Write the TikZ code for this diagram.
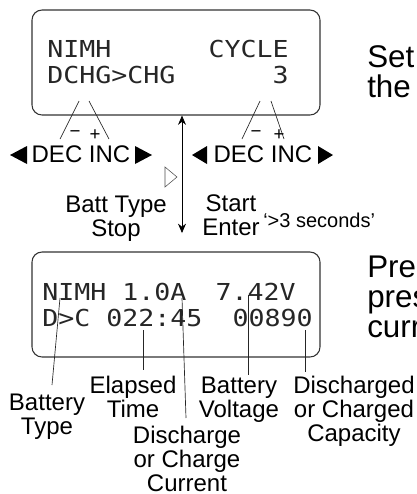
\documentclass[tikz,border=0pt]{standalone}
\usepackage{fontspec}
\setmainfont{Liberation Sans}
\newfontfamily\lcdfont[FakeStretch=1.14]{DejaVu Sans Mono}
\usetikzlibrary{arrows.meta}
\tikzset{
  lcd/.style={draw=black!80, line width=0.8pt, rounded corners=7.5pt,
    minimum width=216pt, minimum height=78.75pt},
  lcdtxt/.style={font=\lcdfont\fontsize{17.5}{17.5}\selectfont, text=black!85, inner sep=0pt},
  lbl/.style={font=\fontsize{18}{18}\selectfont, align=center, inner sep=0pt, anchor=base},
  sgn/.style={font=\fontsize{14}{14}\selectfont, inner sep=0pt},
  big/.style={font=\fontsize{23.5}{22.5}\selectfont, align=left, inner sep=0pt, anchor=base west},
  lead/.style={line width=0.5pt, black!85}
}
\begin{document}
\begin{tikzpicture}[x=0.75pt,y=-0.75pt]
      \useasboundingbox (0,0) rectangle (417,494);
      % upper display
      \node[lcd] (lcdA) at (176,62.5) {};
      \node[lcdtxt, anchor=base west] (typeA) at (47,57) {NIMH};
      \node[lcdtxt, anchor=base east] (cyc) at (289,57) {CYCLE};
      \node[lcdtxt, anchor=base west] (mode) at (47,83) {DCHG>CHG};
      \node[lcdtxt, anchor=base east] (cnum) at (289,83) {3};
      \node[big] (set) at (367,97) {Set\\the};
      % dec / inc keys
      \coordinate (kl1) at (79,101);
      \coordinate (kl2) at (89,101);
      \coordinate (kl3) at (60,139);
      \coordinate (kl4) at (109,139);
      \draw[lead] (kl1) -- (kl3);
      \draw[lead] (kl2) -- (kl4);
      \node[sgn] (mnA) at (75,134) {−};
      \node[sgn] (plA) at (95,135) {+};
      \fill (10,155) -- (27,146) -- (27,164) -- cycle;
      \fill (152,155) -- (135,146) -- (135,164) -- cycle;
      \node[lbl] (keyA) at (81,162) {DEC INC};
      \coordinate (kr1) at (260,101);
      \coordinate (kr2) at (271,101);
      \coordinate (kr3) at (242,139);
      \coordinate (kr4) at (284,139);
      \draw[lead] (kr1) -- (kr3);
      \draw[lead] (kr2) -- (kr4);
      \node[sgn] (mnB) at (256,134) {−};
      \node[sgn] (plB) at (279,135) {+};
      \fill (192,155) -- (207,146) -- (207,164) -- cycle;
      \fill (333,155) -- (318,146) -- (318,164) -- cycle;
      \node[lbl] (keyB) at (263,162) {DEC INC};
      % start / stop
      \coordinate (ax1) at (lcdA.south -| 182,0);
      \coordinate (ax2) at (182,233);
      \draw[line width=0.6pt, {Stealth[length=7pt,width=6pt]}-{Stealth[length=7pt,width=6pt]}] (ax1) -- (ax2);
      \draw[line width=0.4pt, black!70] (165,167) -- (177,177) -- (165,187) -- cycle;
      \node[lbl] (stop) at (116,236) {Batt Type\\Stop};
      \node[lbl] (start) at (231,235) {Start\\Enter};
      \node[font=\fontsize{15}{15}\selectfont, inner sep=0pt, anchor=base west] (sec) at (263,227) {‘>3 seconds’};
      % lower display
      \node[lcd] (lcdB) at (176,304.5) {};
      \node[lcdtxt, anchor=base west] (typeB) at (42,300) {NIMH 1.0A};
      \node[lcdtxt, anchor=base east] (volt) at (296,300) {7.42V};
      \node[lcdtxt, anchor=base west] (time) at (42,326) {D>C 022:45};
      \node[lcdtxt, anchor=base east] (capa) at (313,326) {00890};
      \node[big] (pre) at (367,337) {Pre\\pres\\curr};
      % field labels
      \node[lbl] (bt) at (47,434) {Battery\\Type};
      \node[lbl] (et) at (133,417) {Elapsed\\Time};
      \node[lbl] (dc) at (187,491) {Discharge\\or Charge\\Current};
      \node[lbl] (bv) at (239,417) {Battery\\Voltage};
      \node[lbl] (cp) at (354,441) {Discharged\\or Charged\\Capacity};
      \coordinate (p1) at (60,298);
      \coordinate (p1e) at (52,385);
      \coordinate (p2) at (143,330);
      \coordinate (p3) at (182,298);
      \coordinate (p3e) at (186,418);
      \coordinate (p4) at (248,295);
      \coordinate (p5) at (305,330);
      \draw[lead] (p1) -- (p1e);
      \draw[lead] (p2) -- (p2 |- 0,370);
      \draw[lead] (p3) -- (p3e);
      \draw[lead] (p4) -- (p4 |- 0,375);
      \draw[lead] (p5) -- (p5 |- 0,372);
\end{tikzpicture}
\end{document}
